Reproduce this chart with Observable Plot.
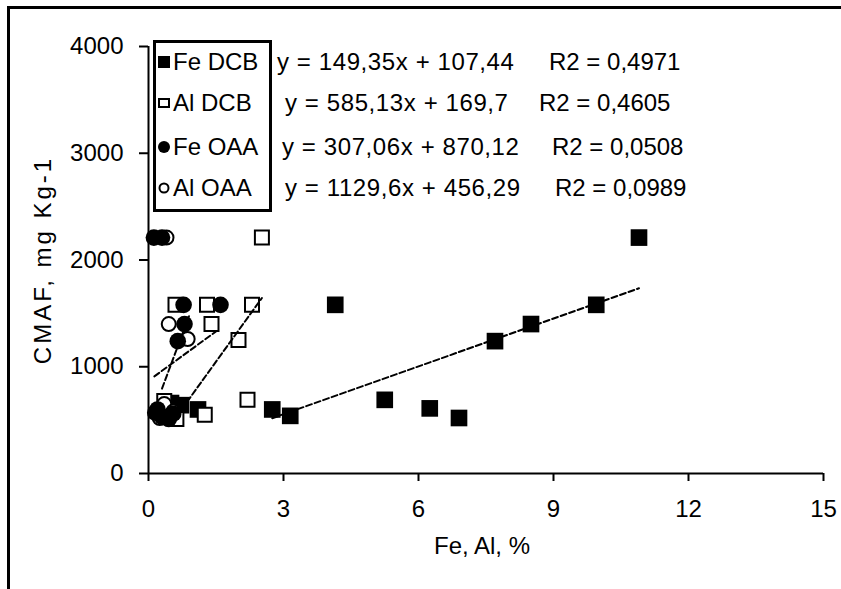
<!DOCTYPE html>
<html><head><meta charset="utf-8">
<script src="https://cdn.jsdelivr.net/npm/d3@7"></script>
<script src="https://cdn.jsdelivr.net/npm/@observablehq/plot@0.6"></script>
<style>
body{margin:0;background:#fff;}
#wrap{position:relative;width:841px;height:589px;overflow:hidden;font-family:"Liberation Sans",Arial,sans-serif;color:#000;}
#frame{position:absolute;left:7px;top:6px;width:900px;height:700px;border-left:3px solid #000;border-top:3px solid #000;}
#chart{position:absolute;left:0;top:0;}
.lbl{position:absolute;font-size:24px;line-height:24px;white-space:nowrap;transform:translateY(-50%);}
#legend{position:absolute;left:153px;top:40px;width:119px;height:172px;box-sizing:border-box;border:3px solid #000;background:#fff;}
</style></head><body>
<div id="wrap"><div id="frame"></div><div id="chart"></div></div>
<script>
// ---- data ----
const series = ["Fe DCB", "Al DCB", "Fe OAA", "Al OAA"];
const equations = ["y = 149,35x + 107,44", "y = 585,13x + 169,7", "y = 307,06x + 870,12", "y = 1129,6x + 456,29"];
const r2Labels = ["R2 = 0,4971", "R2 = 0,4605", "R2 = 0,0508", "R2 = 0,0989"];
const slopes = [149.35, 585.13, 307.06, 1129.6];
const intercepts = [107.44, 169.7, 870.12, 456.29];
const trendFrom = [2.75, 0.62, 0.13, 0.3];
const trendTo = [10.9, 2.52, 1.5, 0.9];

const feDcbX = [0.5, 0.72, 1.1, 2.75, 3.15, 4.15, 5.25, 6.25, 6.9, 7.7, 8.5, 9.95, 10.9];
const feDcbY = [660, 640, 600, 600, 540, 1580, 690, 610, 520, 1240, 1400, 1580, 2210];
const alDcbX = [0.35, 0.62, 1.25, 2.2, 2.0, 1.4, 0.6, 1.3, 2.3, 2.52];
const alDcbY = [680, 510, 550, 690, 1250, 1400, 1580, 1580, 1580, 2210];
const alOaaX = [0.25, 0.35, 0.55, 0.87, 0.45, 0.4];
const alOaaY = [520, 650, 580, 1260, 1400, 2210];
const feOaaX = [0.15, 0.2, 0.3, 0.45, 0.55, 0.65, 0.8, 0.78, 1.6, 0.12, 0.3];
const feOaaY = [570, 600, 530, 510, 560, 1240, 1400, 1580, 1580, 2210, 2210];

const xTicks = [0, 3, 6, 9, 12, 15];
const yTicks = [0, 1000, 2000, 3000, 4000];
const xLabel = "Fe, Al, %";
const yLabel = "CMAF, mg Kg-1";

// ---- build ----
const pts = (xs, ys) => xs.map((x, i) => ({x, y: ys[i]}));
const trend = i => [trendFrom[i], trendTo[i]].map(x => ({x, y: slopes[i] * x + intercepts[i]}));

const plot = Plot.plot({
  width: 841, height: 589,
  marginLeft: 148, marginRight: 18, marginTop: 46, marginBottom: 116,
  style: {fontFamily: "'Liberation Sans', Arial, sans-serif", fontSize: "24px", background: "transparent", color: "#000", overflow: "visible"},
  x: {domain: [0, 15]},
  y: {domain: [0, 4000]},
  marks: [
    Plot.axisX({ticks: xTicks, tickSize: 8, tickPadding: 18, label: null, tickFormat: d3.format("d"), strokeWidth: 2, fontSize: 24}),
    Plot.axisY({ticks: yTicks, tickSize: 9, tickPadding: 16, label: null, tickFormat: d3.format("d"), strokeWidth: 2, fontSize: 24}),
    Plot.ruleX([0], {stroke: "#000", strokeWidth: 2}),
    Plot.ruleY([0], {stroke: "#000", strokeWidth: 2}),
    Plot.dot(pts(feDcbX, feDcbY), {x: "x", y: "y", symbol: "square", r: 9.4, fill: "#000", stroke: "none"}),
    Plot.dot(pts(alDcbX, alDcbY), {x: "x", y: "y", symbol: "square", r: 7.9, fill: "#fff", stroke: "#000", strokeWidth: 2}),
    Plot.dot(pts(alOaaX, alOaaY), {x: "x", y: "y", symbol: "circle", r: 7, fill: "#fff", stroke: "#000", strokeWidth: 2}),
    Plot.dot(pts(feOaaX, feOaaY), {x: "x", y: "y", symbol: "circle", r: 8.3, fill: "#000", stroke: "none"}),
    ...[0, 1, 2, 3].map(i => Plot.line(trend(i), {x: "x", y: "y", stroke: "#000", strokeWidth: 2, strokeDasharray: "6,3"})),
    Plot.text([yLabel], {frameAnchor: "left", textAnchor: "middle", dx: -105, rotate: -90, fontSize: 24, fill: "#000"}),
    Plot.text([xLabel], {frameAnchor: "bottom", textAnchor: "middle", dy: 80, dx: -4, fontSize: 24, fill: "#000"})
  ]
});
d3.select(plot).selectAll("text").filter(function () { return this.textContent === yLabel; }).style("letter-spacing", "3px");
document.getElementById("chart").appendChild(plot);

// legend and trendline labels
const wrap = document.getElementById("wrap");
const legend = document.createElement("div");
legend.id = "legend";
wrap.appendChild(legend);
const rowY = [62, 103, 147, 188];
const icons = [
  '<rect x="1" y="1" width="12" height="12" fill="#000"/>',
  '<rect x="2" y="3" width="10" height="8" fill="#fff" stroke="#000" stroke-width="2"/>',
  '<circle cx="7" cy="7" r="6" fill="#000"/>',
  '<circle cx="7" cy="7" r="4.5" fill="#fff" stroke="#000" stroke-width="2"/>'
];
const eqX = [277, 285, 282, 285];
const r2X = [549, 539, 552, 555];
series.forEach((s, i) => {
  const ic = document.createElement("div");
  ic.style.cssText = `position:absolute;left:157px;top:${rowY[i] - 7}px;width:14px;height:14px;`;
  ic.innerHTML = `<svg width="14" height="14">${icons[i]}</svg>`;
  wrap.appendChild(ic);
  const t = document.createElement("div");
  t.className = "lbl"; t.style.left = "173px"; t.style.top = rowY[i] + "px"; t.textContent = s;
  wrap.appendChild(t);
  const e = document.createElement("div");
  e.className = "lbl"; e.style.left = eqX[i] + "px"; e.style.top = rowY[i] + "px"; e.style.letterSpacing = "0.6px"; e.textContent = equations[i];
  wrap.appendChild(e);
  const r = document.createElement("div");
  r.className = "lbl"; r.style.left = r2X[i] + "px"; r.style.top = rowY[i] + "px"; r.textContent = r2Labels[i];
  wrap.appendChild(r);
});
</script>
</body></html>
